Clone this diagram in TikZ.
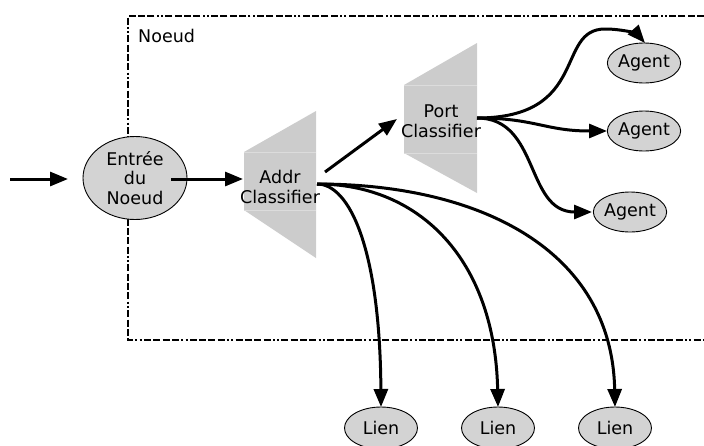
\documentclass[tikz,border=0pt]{standalone}
\usepackage{fontspec}
\setmainfont{DejaVu Sans}
\usetikzlibrary{arrows.meta,shapes.geometric}
\definecolor{nodefill}{HTML}{D3D3D3}
\definecolor{clsfill}{HTML}{CCCCCC}
\definecolor{clsline}{HTML}{DCDCDC}
\tikzset{
  txt/.style={font=\fontsize{17.5}{19.5}\selectfont, align=center, inner sep=0pt},
  blob/.style={ellipse, draw=black, line width=0.9pt, fill=nodefill, inner sep=0pt,
    font=\fontsize{17.5}{19.5}\selectfont, align=center},
  agentnode/.style={blob, minimum width=72pt, minimum height=40pt},
  liennode/.style={blob, minimum width=73pt, minimum height=42pt},
  link/.style={line width=3pt, -{Triangle[length=18pt,width=14pt]}},
  frame/.style={line width=2.8pt, line cap=butt,
    dash pattern=on 7pt off 2.3pt on 7pt off 2.3pt on 7pt off 2.3pt on 7pt off 2.3pt on 2pt off 2.3pt on 2pt off 2.3pt},
  clsbody/.style={fill=clsfill, draw=none},
  clsedge/.style={draw=clsline, line width=0.8pt}
}
\begin{document}
\begin{tikzpicture}[x=1pt,y=-1pt]
\useasboundingbox (0,0) rectangle (704,445);

% node boundary (open towards the right)
\draw[frame] (704,16) -- (128,16) -- (128,340) -- (704,340);
\node[txt, anchor=base west] (noeudlbl) at (138,42) {Noeud};

% address classifier
\fill[clsbody] (244,152) -- (316,111) -- (316,258) -- (244,210) -- cycle;
\draw[clsedge] (244,152) -- (316,152);
\draw[clsedge] (244,210) -- (316,210);
\node[txt] (addr) at (280,187) {Addr\\Classifier};

% port classifier
\fill[clsbody] (404,85) -- (477,43) -- (477,193) -- (404,153) -- cycle;
\draw[clsedge] (404,85) -- (477,85);
\draw[clsedge] (404,153) -- (477,153);
\node[txt] (port) at (441,121) {Port\\Classifier};

% entry point and targets
\node[blob, minimum width=104pt, minimum height=83pt] (entree) at (135,178) {Entrée\\du\\Noeud};
\node[agentnode] (ag1) at (644,63) {Agent};
\node[agentnode] (ag2) at (644,131) {Agent};
\node[agentnode] (ag3) at (630,212) {Agent};
\node[liennode] (l1) at (381,428) {Lien};
\node[liennode] (l2) at (498,428) {Lien};
\node[liennode] (l3) at (615,428) {Lien};

% connector end points
\coordinate (in) at (10,179);
\coordinate (intip) at (68,179);
\coordinate (eout) at (171,179);
\coordinate (ain) at (243,179);
\coordinate (aup) at (325,172);
\coordinate (aout) at (317,184);
\coordinate (pin) at (397,119);
\coordinate (pout) at (477,118);
\coordinate (t1) at (645,43);
\coordinate (t2) at (607,131);
\coordinate (t3) at (592,212);
\coordinate (tl1) at (381,407);
\coordinate (tl2) at (498,407);
\coordinate (tl3) at (615,407);

% connectors
\draw[link] (in) -- (intip);
\draw[link] (eout) -- (ain);
\draw[link] (aup) -- (pin);
\draw[link] (pout) .. controls (590,118) and (555,29) .. (605,29)
                   .. controls (625,29) and (638,35) .. (t1);
\draw[link] (pout) .. controls (535,118) and (545,131) .. (t2);
\draw[link] (pout) .. controls (540,118) and (525,212) .. (t3);
\draw[link] (aout) .. controls (350,184) and (380,250) .. (tl1);
\draw[link] (aout) .. controls (420,184) and (495,260) .. (tl2);
\draw[link] (aout) .. controls (480,184) and (612,250) .. (tl3);
\end{tikzpicture}
\end{document}
